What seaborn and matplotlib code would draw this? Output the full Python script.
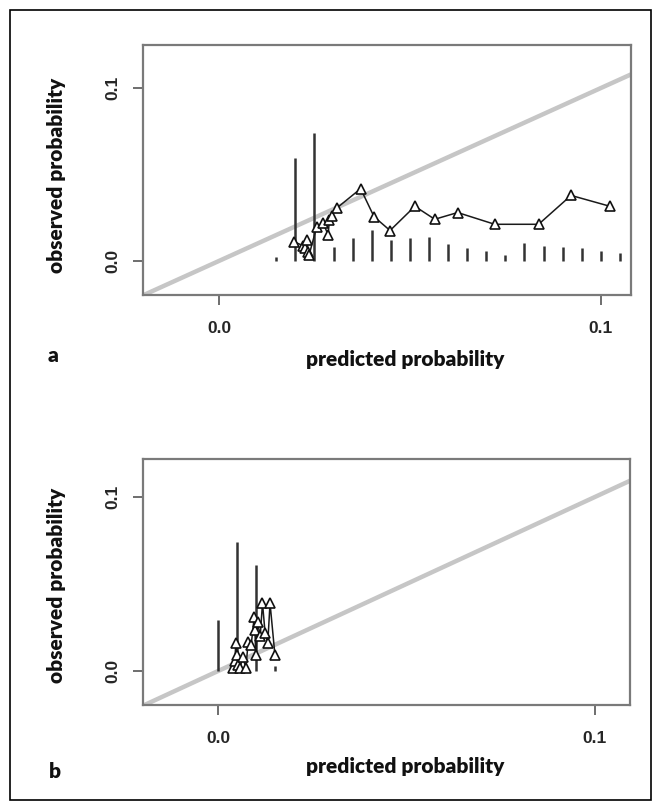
import matplotlib
matplotlib.use("Agg")
import matplotlib.pyplot as plt
import seaborn as sns
import numpy as np
import pandas as pd
from matplotlib.patches import Rectangle

# ---------------- data ----------------
# Panel a: calibration points (predicted, observed)
a_pred = [0.0196, 0.0221, 0.0225, 0.0230, 0.0234, 0.0236, 0.0256, 0.0273, 0.0286,
          0.0289, 0.0295, 0.0308, 0.0371, 0.0406, 0.0448, 0.0513, 0.0565, 0.0625,
          0.0722, 0.0837, 0.0922, 0.1024]
a_obs = [0.0112, 0.0087, 0.0073, 0.0121, 0.0054, 0.0035, 0.0198, 0.0218, 0.0150,
         0.0237, 0.0262, 0.0305, 0.0418, 0.0256, 0.0176, 0.0316, 0.0241, 0.0280,
         0.0212, 0.0212, 0.0379, 0.0316]
# Panel a: distribution spikes of predicted probabilities
a_spike_x = [0.015, 0.020, 0.025, 0.030, 0.035, 0.040, 0.045, 0.050, 0.055, 0.060,
             0.065, 0.070, 0.075, 0.080, 0.085, 0.090, 0.095, 0.100, 0.105]
a_spike_h = [0.0025, 0.0597, 0.0742, 0.0082, 0.0135, 0.0178, 0.0122, 0.0131, 0.0140,
             0.0098, 0.0077, 0.0058, 0.0035, 0.0102, 0.0087, 0.0079, 0.0073, 0.0058,
             0.0044]

# Panel b
b_pred = [0.0040, 0.0045, 0.0047, 0.0050, 0.0053, 0.0058, 0.0066, 0.0074, 0.0080,
          0.0088, 0.0096, 0.0098, 0.0100, 0.0105, 0.0112, 0.0118, 0.0125, 0.0132,
          0.0138, 0.0151]
b_obs = [0.0015, 0.0060, 0.0160, 0.0090, 0.0035, 0.0017, 0.0080, 0.0017, 0.0168,
         0.0150, 0.0310, 0.0236, 0.0090, 0.0280, 0.0200, 0.0390, 0.0217, 0.0160,
         0.0390, 0.0092]
b_spike_x = [0.000, 0.005, 0.010, 0.015]
b_spike_h = [0.0293, 0.0743, 0.0610, 0.0030]

tick_vals = [0.0, 0.1]
tick_labels = ["0.0", "0.1"]
xlab = "predicted probability"
ylab = "observed probability"
panel_letters = ["a", "b"]

# ---------------- style ----------------
sns.set_theme(style="white")
plt.rcParams['font.family'] = ['Lato', 'DejaVu Sans']

W, H = 661, 808
fig = plt.figure(figsize=(W / 100, H / 100), dpi=100)
fig.patch.set_facecolor("white")

def fx(px):
    return px / W

def fy(py):
    return 1 - py / H

panels = [
    dict(box=(143, 45, 631, 295), xlim=(-0.0199, 0.1079), ylim=(-0.0197, 0.1249),
         pred=a_pred, obs=a_obs, sx=a_spike_x, sh=a_spike_h,
         xlab_pos=(405, 359), ylab_pos=(57, 175), letter_pos=(53, 356)),
    dict(box=(143, 459, 630, 705), xlim=(-0.0199, 0.1093), ylim=(-0.0195, 0.1218),
         pred=b_pred, obs=b_obs, sx=b_spike_x, sh=b_spike_h,
         xlab_pos=(405, 767), ylab_pos=(57, 585), letter_pos=(55, 772)),
]

label_font = dict(fontsize=15, fontweight="heavy", color="#111111")

for i, p in enumerate(panels):
    x0, y0, x1, y1 = p["box"]
    ax = fig.add_axes([fx(x0), fy(y1), (x1 - x0) / W, (y1 - y0) / H])
    ax.set_xlim(*p["xlim"])
    ax.set_ylim(*p["ylim"])

    # identity line
    ax.axline((0, 0), slope=1, color="#c6c6c6", lw=3.2, zorder=1,
              solid_capstyle="butt")

    # spikes
    ax.vlines(p["sx"], 0, p["sh"], color="#333333", lw=1.8, zorder=2)

    # calibration curve
    df = pd.DataFrame({"pred": p["pred"], "obs": p["obs"]})
    sns.lineplot(data=df, x="pred", y="obs", ax=ax, estimator=None, sort=False,
                 color="#1a1a1a", lw=1.1, marker="^", markersize=7.5,
                 markerfacecolor="white", markeredgecolor="#111111",
                 markeredgewidth=1.2, zorder=3)

    ax.set_xticks(tick_vals)
    ax.set_xticklabels(tick_labels, fontweight="bold", fontsize=12.5,
                       family=["Liberation Sans", "DejaVu Sans"])
    ax.set_yticks(tick_vals)
    ax.set_yticklabels(tick_labels, fontweight="bold", fontsize=12.5, rotation=90,
                       va="center", family=["Liberation Sans", "DejaVu Sans"])
    ax.tick_params(axis="x", direction="out", length=7, width=1.2, color="#555555",
                   pad=12, bottom=True)
    ax.tick_params(axis="y", direction="out", length=7, width=1.2, color="#555555",
                   pad=9, left=True)
    for s in ax.spines.values():
        s.set_color("#7a7a7a")
        s.set_linewidth(1.6)

    ax.set_xlabel("")
    ax.set_ylabel("")
    fig.text(fx(p["xlab_pos"][0]), fy(p["xlab_pos"][1]), xlab, ha="center",
             va="center", **label_font)
    fig.text(fx(p["ylab_pos"][0]), fy(p["ylab_pos"][1]), ylab, ha="center",
             va="center", rotation=90, **label_font)
    fig.text(fx(p["letter_pos"][0]), fy(p["letter_pos"][1]), panel_letters[i],
             ha="center", va="center", **label_font)

# outer border
fig.patches.append(Rectangle((fx(10), fy(800)), (651 - 10) / W, (800 - 10) / H,
                             transform=fig.transFigure, fill=False,
                             edgecolor="black", lw=1.2))

fig.savefig("out.png", dpi=100, facecolor="white")
